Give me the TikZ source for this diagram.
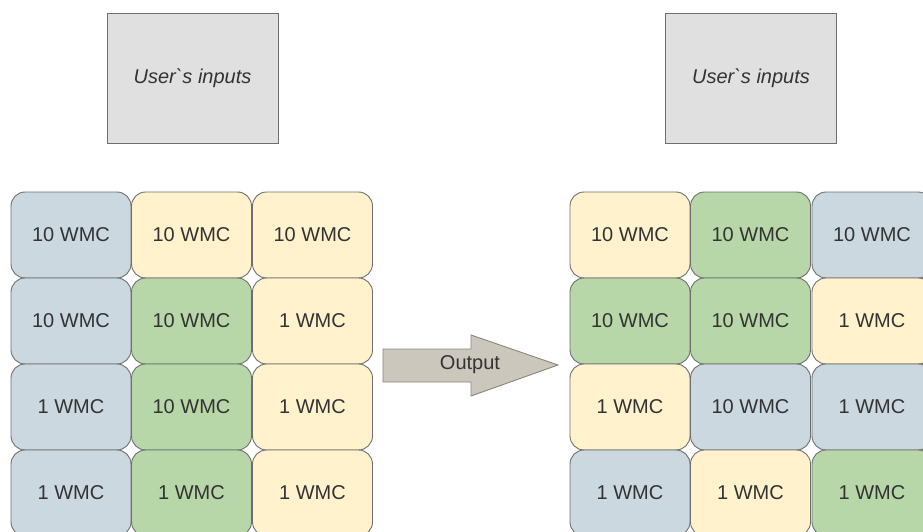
\documentclass[tikz,border=0pt]{standalone}
\usepackage{fontspec}
\setmainfont{Liberation Sans}[Ligatures=TeXOff]
\definecolor{cblue}{HTML}{CBD8DF}
\definecolor{cyell}{HTML}{FFF2CC}
\definecolor{cgreen}{HTML}{B7D7A8}
\definecolor{cgray}{HTML}{E0E0E0}
\definecolor{cline}{HTML}{6E6E6E}
\definecolor{ctext}{HTML}{333333}
\definecolor{carrow}{HTML}{CBC7BD}
\definecolor{carrowline}{HTML}{8C8479}
\tikzset{
  cell/.style={draw=cline, line width=0.9pt, rounded corners=14pt, minimum width=120pt, minimum height=86pt, inner sep=0pt, text=ctext, font=\fontsize{20}{24}\selectfont, text depth=-2pt},
  bluecell/.style={cell, fill=cblue},
  yellcell/.style={cell, fill=cyell},
  greencell/.style={cell, fill=cgreen},
  inbox/.style={draw=cline, line width=0.9pt, fill=cgray, minimum width=171pt, minimum height=130pt, inner sep=0pt, text=ctext, font=\fontsize{20}{24}\selectfont\itshape},
  arrowshape/.style={draw=carrowline, line width=0.9pt, fill=carrow},
  lbl/.style={text=ctext, font=\fontsize{20}{24}\selectfont, inner sep=0pt}
}
\begin{document}
\begin{tikzpicture}[x=1pt,y=-1pt]
\useasboundingbox (0,0) rectangle (923,532);
\begin{scope}
\clip (0,0) rectangle (923,532);
% user input boxes
\node[inbox] (inL) at (192.5,78) {User`s inputs};
\node[inbox] (inR) at (751,78) {User`s inputs};
% left grid
\node[bluecell] (L11) at (71,235) {10 WMC};
\node[yellcell] (L12) at (191.5,235) {10 WMC};
\node[yellcell] (L13) at (312.5,235) {10 WMC};
\node[bluecell] (L21) at (71,321) {10 WMC};
\node[greencell] (L22) at (191.5,321) {10 WMC};
\node[yellcell] (L23) at (312.5,321) {1 WMC};
\node[bluecell] (L31) at (71,407) {1 WMC};
\node[greencell] (L32) at (191.5,407) {10 WMC};
\node[yellcell] (L33) at (312.5,407) {1 WMC};
\node[bluecell] (L41) at (71,493) {1 WMC};
\node[greencell] (L42) at (191.5,493) {1 WMC};
\node[yellcell] (L43) at (312.5,493) {1 WMC};
% right grid
\node[yellcell] (R11) at (630,235) {10 WMC};
\node[greencell] (R12) at (750.5,235) {10 WMC};
\node[bluecell] (R13) at (872,235) {10 WMC};
\node[greencell] (R21) at (630,321) {10 WMC};
\node[greencell] (R22) at (750.5,321) {10 WMC};
\node[yellcell] (R23) at (872,321) {1 WMC};
\node[yellcell] (R31) at (630,407) {1 WMC};
\node[bluecell] (R32) at (750.5,407) {10 WMC};
\node[bluecell] (R33) at (872,407) {1 WMC};
\node[bluecell] (R41) at (630,493) {1 WMC};
\node[yellcell] (R42) at (750.5,493) {1 WMC};
\node[greencell] (R43) at (872,493) {1 WMC};
% output arrow
\draw[arrowshape] (383,349) -- (471,349) -- (471,335) -- (558,365) -- (471,396) -- (471,382) -- (383,382) -- cycle;
\node[lbl] (outlbl) at (470,365) {Output};
\end{scope}
\end{tikzpicture}
\end{document}
